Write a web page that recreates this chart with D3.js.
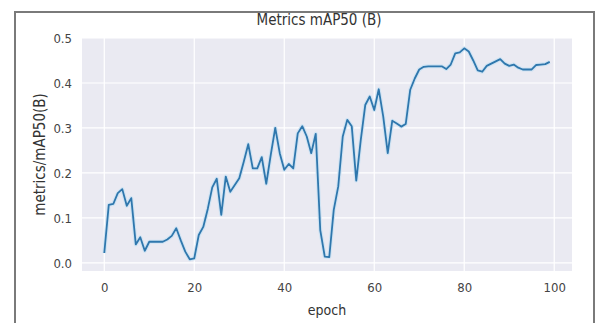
<!DOCTYPE html>
<html>
<head>
<meta charset="utf-8">
<script src="https://cdn.jsdelivr.net/npm/d3@7"></script>
<style>
  body { margin: 0; background: #fff; }
  svg text { font-family: "DejaVu Sans Condensed", "DejaVu Sans", sans-serif; }
</style>
</head>
<body>
<div id="chart"></div>
<script>
// mAP50 per epoch
const epochs = d3.range(0, 100);
const map50 = [
  0.022, 0.129, 0.131, 0.155, 0.164, 0.127, 0.144, 0.041, 0.057, 0.027,
  0.047, 0.047, 0.047, 0.047, 0.052, 0.060, 0.077, 0.050, 0.025, 0.008,
  0.010, 0.062, 0.080, 0.120, 0.168, 0.187, 0.107, 0.192, 0.158, 0.173,
  0.188, 0.225, 0.264, 0.210, 0.210, 0.235, 0.176, 0.240, 0.300, 0.244,
  0.207, 0.220, 0.210, 0.288, 0.304, 0.281, 0.244, 0.287, 0.073, 0.014,
  0.013, 0.118, 0.170, 0.281, 0.318, 0.304, 0.183, 0.273, 0.351, 0.370,
  0.340, 0.386, 0.325, 0.244, 0.316, 0.310, 0.303, 0.309, 0.385, 0.410,
  0.430, 0.436, 0.437, 0.437, 0.437, 0.437, 0.431, 0.441, 0.466, 0.468,
  0.477, 0.470, 0.450, 0.428, 0.425, 0.438, 0.443, 0.448, 0.453, 0.443,
  0.438, 0.441, 0.434, 0.430, 0.430, 0.430, 0.440, 0.441, 0.442, 0.447
];
const xTicks = [0, 20, 40, 60, 80, 100];
const yTicks = [0.0, 0.1, 0.2, 0.3, 0.4, 0.5];

const W = 603, H = 323;
const plot = {left: 82, right: 572, top: 38, bottom: 271};

const svg = d3.select('#chart').append('svg')
  .attr('width', W).attr('height', H);

// outer frame of the screenshot
svg.append('path')
  .attr('d', `M15,${H} V12 H594 V${H}`)
  .attr('fill', 'none')
  .attr('stroke', '#7a7a7a')
  .attr('stroke-width', 2);

const x = d3.scaleLinear().domain([-4.95, 103.95]).range([plot.left, plot.right]);
const y = d3.scaleLinear().domain([-0.018, 0.5]).range([plot.bottom, plot.top]);

svg.append('rect')
  .attr('x', plot.left).attr('y', plot.top)
  .attr('width', plot.right - plot.left)
  .attr('height', plot.bottom - plot.top)
  .attr('fill', '#eaeaf2');

// grid
let grid = svg.append('g');
grid.selectAll('.gx').data(xTicks).join('line')
  .attr('x1', d => x(d)).attr('x2', d => x(d))
  .attr('y1', plot.top).attr('y2', plot.bottom)
  .attr('stroke', '#fff').attr('stroke-width', 1.2);
grid.selectAll('.gy').data(yTicks).join('line')
  .attr('x1', plot.left).attr('x2', plot.right)
  .attr('y1', d => y(d)).attr('y2', d => y(d))
  .attr('stroke', '#fff').attr('stroke-width', 1.2);

// axes, tick lines hidden like seaborn darkgrid
const xAxis = svg.append('g')
  .attr('transform', `translate(0, ${plot.bottom})`)
  .call(d3.axisBottom(x).tickValues(xTicks).tickSize(0).tickPadding(12).tickFormat(d3.format('d')));
const yAxis = svg.append('g')
  .attr('transform', `translate(${plot.left}, 0)`)
  .call(d3.axisLeft(y).tickValues(yTicks).tickSize(0).tickPadding(10).tickFormat(d3.format('.1f')));
[xAxis, yAxis].forEach(a => {
  a.select('.domain').remove();
  a.selectAll('text').style('font-size', '13px').attr('fill', '#444');
});

const line = d3.line().x((d, i) => x(epochs[i])).y(d => y(d));

svg.append('path').datum(map50)
  .attr('d', line)
  .attr('fill', 'none')
  .attr('stroke', '#cfe3f3')
  .attr('stroke-width', 4)
  .attr('stroke-linejoin', 'round');
svg.append('path').datum(map50)
  .attr('d', line)
  .attr('fill', 'none')
  .attr('stroke', '#2f77ad')
  .attr('stroke-width', 1.8)
  .attr('stroke-linejoin', 'round');

svg.append('text')
  .attr('x', (plot.left + plot.right) / 2 - 8).attr('y', 25)
  .attr('text-anchor', 'middle')
  .style('font-size', '15px').attr('fill', '#333')
  .text('Metrics mAP50 (B)');

svg.append('text')
  .attr('x', (plot.left + plot.right) / 2).attr('y', 315)
  .attr('text-anchor', 'middle')
  .style('font-size', '14px').attr('fill', '#333')
  .text('epoch');

svg.append('text')
  .attr('transform', `translate(45, ${(plot.top + plot.bottom) / 2}) rotate(-90)`)
  .attr('text-anchor', 'middle')
  .style('font-size', '15px').attr('fill', '#333')
  .text('metrics/mAP50(B)');
</script>
</body>
</html>
